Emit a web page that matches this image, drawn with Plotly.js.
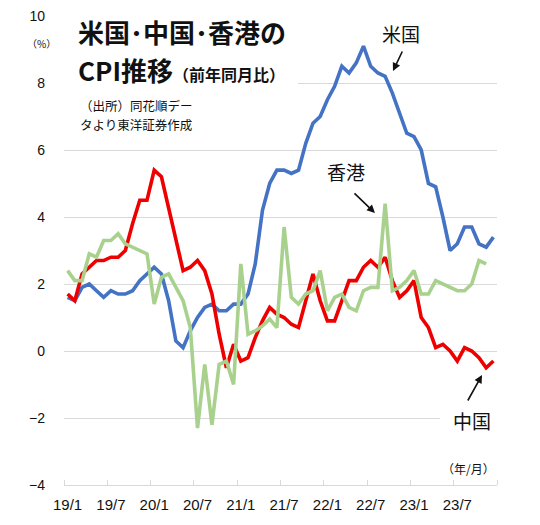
<!DOCTYPE html>
<html>
<head>
<meta charset="utf-8">
<script src="https://cdn.plot.ly/plotly-3.0.1.min.js"></script>
<style>html,body{margin:0;padding:0;background:#fff;}#chart{width:540px;height:525px;}</style>
</head>
<body>
<div id="chart"></div>
<script>
// Monthly labels 2019/1 - 2023/12
const months = [
 "19/1","19/2","19/3","19/4","19/5","19/6","19/7","19/8","19/9","19/10","19/11","19/12",
 "20/1","20/2","20/3","20/4","20/5","20/6","20/7","20/8","20/9","20/10","20/11","20/12",
 "21/1","21/2","21/3","21/4","21/5","21/6","21/7","21/8","21/9","21/10","21/11","21/12",
 "22/1","22/2","22/3","22/4","22/5","22/6","22/7","22/8","22/9","22/10","22/11","22/12",
 "23/1","23/2","23/3","23/4","23/5","23/6","23/7","23/8","23/9","23/10","23/11","23/12"
];
const tickLabels = ["19/1","19/7","20/1","20/7","21/1","21/7","22/1","22/7","23/1","23/7"];

const usCPI = [
 1.6,1.5,1.9,2.0,1.8,1.6,1.8,1.7,1.7,1.8,2.1,2.3,
 2.5,2.3,1.5,0.3,0.1,0.6,1.0,1.3,1.4,1.2,1.2,1.4,
 1.4,1.7,2.6,4.2,5.0,5.4,5.4,5.3,5.4,6.2,6.8,7.0,
 7.5,7.9,8.5,8.3,8.6,9.1,8.5,8.3,8.2,7.7,7.1,6.5,
 6.4,6.0,5.0,4.9,4.0,3.0,3.2,3.7,3.7,3.2,3.1,3.4
];
const chinaCPI = [
 1.7,1.5,2.3,2.5,2.7,2.7,2.8,2.8,3.0,3.8,4.5,4.5,
 5.4,5.2,4.3,3.3,2.4,2.5,2.7,2.4,1.7,0.5,-0.5,0.2,
 -0.3,-0.2,0.4,0.9,1.3,1.1,1.0,0.8,0.7,1.5,2.3,1.5,
 0.9,0.9,1.5,2.1,2.1,2.5,2.7,2.5,2.8,2.1,1.6,1.8,
 2.1,1.0,0.7,0.1,0.2,0.0,-0.3,0.1,0.0,-0.2,-0.5,-0.3
];
const hkCPI = [
 2.4,2.1,2.1,2.9,2.8,3.3,3.3,3.5,3.2,3.1,3.0,2.9,
 1.4,2.2,2.3,1.9,1.5,0.7,-2.3,-0.4,-2.2,-0.4,-0.3,-1.0,
 2.6,0.5,0.6,0.75,0.95,0.7,3.7,1.6,1.4,1.7,1.8,2.4,
 1.2,1.6,1.7,1.3,1.2,1.8,1.9,1.9,4.4,1.8,1.9,2.1,
 2.4,1.7,1.7,2.1,2.0,1.9,1.8,1.8,2.0,2.7,2.6
];

const xIdx = months.map((m, i) => i);
const tickVals = tickLabels.map(t => months.indexOf(t));

const NUM = "Liberation Sans, Arial, sans-serif";
const JP = "Noto Sans CJK JP, sans-serif";

// pixel -> paper helpers (plot area: x 64..497, y 16..485)
const L = 64, R = 43, T = 16, B = 40;
const W = 540 - L - R, H = 525 - T - B;
const px = x => (x - L) / W;
const py = y => (525 - B - y) / H;

const traces = [
 {x: xIdx, y: usCPI, name: "米国", type: "scatter", mode: "lines",
  line: {color: "#4472C4", width: 3.6}},
 {x: xIdx, y: chinaCPI, name: "中国", type: "scatter", mode: "lines",
  line: {color: "#EE0000", width: 3.6}},
 {x: xIdx.slice(0, hkCPI.length), y: hkCPI, name: "香港", type: "scatter", mode: "lines",
  line: {color: "#A9D18E", width: 3.6}}
];

const txt = (x, y, text, size, extra) => Object.assign({
  xref: "paper", yref: "paper", x: px(x), y: py(y), text: text, showarrow: false,
  xanchor: "center", yanchor: "middle", font: {family: JP, size: size, color: "#111"}
}, extra || {});

const arrow = (hx, hy, tx, ty) => ({
  xref: "paper", yref: "paper", x: px(hx), y: py(hy), ax: tx - hx, ay: ty - hy,
  text: "", showarrow: true, arrowhead: 2, arrowsize: 1, arrowwidth: 1.6,
  arrowcolor: "#111", standoff: 0
});

const layout = {
  width: 540, height: 525,
  margin: {l: L, r: R, t: T, b: B},
  paper_bgcolor: "#fff", plot_bgcolor: "#fff",
  showlegend: false,
  xaxis: {
    range: [-0.5, months.length - 0.5],
    tickmode: "array", tickvals: tickVals, ticktext: tickLabels,
    ticks: "", showgrid: false, zeroline: false,
    showline: true, linecolor: "#D9D9D9", linewidth: 1,
    tickfont: {family: NUM, size: 15, color: "#111"},
    ticklabelstandoff: 6,
    minor: {tickmode: "linear", tick0: -0.5, dtick: 6, ticks: "inside", ticklen: 5,
            tickcolor: "#D9D9D9", tickwidth: 1, showgrid: false}
  },
  yaxis: {
    range: [-4, 10], tickmode: "linear", tick0: -4, dtick: 2,
    showgrid: true, gridcolor: "#D9D9D9", gridwidth: 1,
    zeroline: false, showline: false, ticks: "",
    tickfont: {family: NUM, size: 14, color: "#111"},
    ticklabelstandoff: 18
  },
  shapes: [
    {type: "rect", xref: "paper", yref: "paper", x0: px(64), x1: px(298), y0: py(135), y1: py(8),
     fillcolor: "#fff", line: {width: 0}, layer: "above"},
    {type: "rect", xref: "paper", yref: "paper", x0: px(369), x1: px(432), y0: py(50), y1: py(8),
     fillcolor: "#fff", line: {width: 0}, layer: "above"},
    {type: "rect", xref: "paper", yref: "paper", x0: px(440), x1: px(500), y0: py(434), y1: py(405),
     fillcolor: "#fff", line: {width: 0}, layer: "above"}
  ],
  annotations: [
    txt(76, 31.5, "<b>米国･中国･香港の</b>", 26, {xanchor: "left"}),
    txt(76, 69.5, "<b>CPI推移<span style='font-size:16px'>（前年同月比）</span></b>", 26, {xanchor: "left"}),
    txt(78, 105.5, "（出所）同花順デー", 12.5, {xanchor: "left"}),
    txt(78, 124, "タより東洋証券作成", 12.5, {xanchor: "left"}),
    txt(41, 43, "（%）", 10),
    txt(401, 33, "米国", 19),
    txt(346, 172, "香港", 19),
    txt(472, 420, "中国", 19),
    txt(468, 468, "（年/月）", 12),
    arrow(393, 71, 403, 50),
    arrow(375, 213, 353, 192),
    arrow(482, 375, 467, 402)
  ]
};

Plotly.newPlot("chart", traces, layout, {displayModeBar: false, staticPlot: true});
</script>
</body>
</html>
